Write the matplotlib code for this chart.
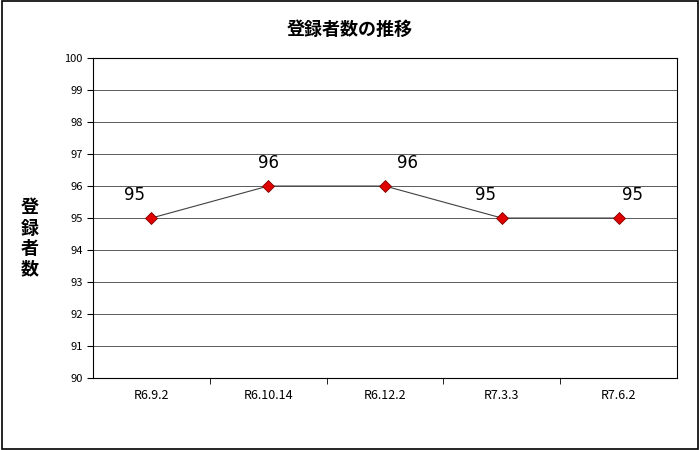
import matplotlib
matplotlib.use("Agg")
import matplotlib.pyplot as plt
from matplotlib.patches import Rectangle

plt.rcParams['font.family'] = ['Noto Sans CJK JP', 'DejaVu Sans']

categories = ["R6.9.2", "R6.10.14", "R6.12.2", "R7.3.3", "R7.6.2"]
values = [95, 96, 96, 95, 95]
yticks = list(range(90, 101))
label_dx = [-12, 0, 16, -12, 10]

fig = plt.figure(figsize=(7, 4.5), dpi=100)
fig.patches.append(Rectangle((0.003, 0.003), 0.994, 0.994, transform=fig.transFigure,
                             fill=False, edgecolor='black', linewidth=1.2))
ax = fig.add_axes([0.133, 0.16, 0.834, 0.711])
x = list(range(len(categories)))
ax.plot(x, values, color='#404040', linewidth=0.8, marker='D', markersize=6,
        markerfacecolor='#e00000', markeredgecolor='#800000', markeredgewidth=0.6, zorder=3)
for xi, v, dx in zip(x, values, label_dx):
    ax.annotate(str(v), (xi, v), xytext=(dx, 10), textcoords='offset points',
                ha='center', va='bottom', fontsize=12, family='DejaVu Sans')
ax.set_xlim(-0.5, len(categories) - 0.5)
ax.set_ylim(90, 100)
ax.set_yticks(yticks)
ax.set_yticklabels([str(t) for t in yticks], fontsize=8)
ax.set_xticks(x)
ax.set_xticklabels(categories, fontsize=9)
ax.set_xticks([i + 0.5 for i in x[:-1]], minor=True)
ax.tick_params(axis='x', which='major', length=0, pad=8)
ax.tick_params(axis='x', which='minor', length=4, direction='out')
ax.tick_params(axis='y', length=4, direction='out')
ax.grid(axis='y', color='#404040', linewidth=0.6)
ax.set_axisbelow(True)
for s in ax.spines.values():
    s.set_linewidth(0.8)
fig.text(0.5, 0.935, "登録者数の推移", ha='center', va='center', fontsize=13, fontweight='bold')
fig.text(0.043, 0.47, "登\n録\n者\n数", ha='center', va='center', fontsize=13,
         fontweight='bold', linespacing=1.1)
fig.savefig("out.png", dpi=100)
